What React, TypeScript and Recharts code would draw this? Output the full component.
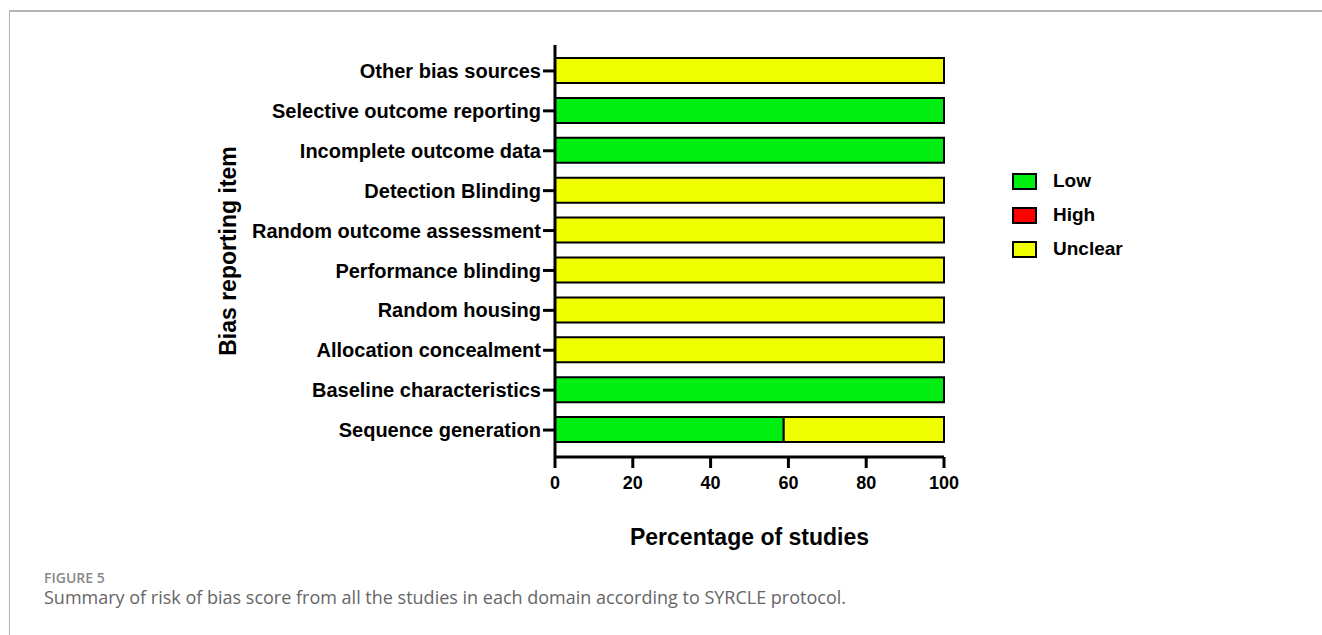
import React from "react";
import { BarChart, Bar, XAxis, YAxis } from "recharts";

// bias items, top to bottom
const items = [
  "Other bias sources",
  "Selective outcome reporting",
  "Incomplete outcome data",
  "Detection Blinding",
  "Random outcome assessment",
  "Performance blinding",
  "Random housing",
  "Allocation concealment",
  "Baseline characteristics",
  "Sequence generation",
];
const lowValues = [0, 100, 100, 0, 0, 0, 0, 0, 100, 58.8];
const highValues = [0, 0, 0, 0, 0, 0, 0, 0, 0, 0];
const unclearValues = [100, 0, 0, 100, 100, 100, 100, 100, 0, 41.2];
const xTicks = [0, 20, 40, 60, 80, 100];

const series = [
  { key: "Low", color: "#00ee10" },
  { key: "High", color: "#ff0000" },
  { key: "Unclear", color: "#f0ff00" },
];

const data = items.map((name, i) => ({
  name,
  Low: lowValues[i],
  High: highValues[i],
  Unclear: unclearValues[i],
}));

const FONT = "'Liberation Sans', Arial, sans-serif";

const LegendBox = () => (
  <div style={{ fontFamily: FONT }}>
    {series.map((s) => (
      <div key={s.key} style={{ display: "flex", alignItems: "center", height: 34 }}>
        <div style={{ width: 21, height: 13, background: s.color, border: "2px solid #000", marginRight: 16 }} />
        <span style={{ fontSize: 19, fontWeight: "bold", color: "#000" }}>{s.key}</span>
      </div>
    ))}
  </div>
);

const App = () => {
  return (
    <div style={{ position: "absolute", left: 0, top: 0, width: 1322, height: 635, background: "#fff", overflow: "hidden" }}>
      <div style={{ position: "absolute", left: 9, top: 10, right: 0, height: 2, background: "#b4b4b4" }} />
      <div style={{ position: "absolute", left: 9, top: 10, bottom: 0, width: 1, background: "#b4b4b4" }} />

      <div style={{ position: "absolute", left: 0, top: 0 }}>
        <BarChart
          width={1322}
          height={635}
          data={data}
          layout="vertical"
          margin={{ top: 45, right: 378, bottom: 58, left: 215 }}
        >
          <XAxis
            type="number"
            domain={[0, 100]}
            ticks={xTicks}
            axisLine={{ stroke: "#000", strokeWidth: 3 }}
            tickLine={{ stroke: "#000", strokeWidth: 3 }}
            tickSize={11}
            tickMargin={8}
            tick={{ fill: "#000", fontSize: 18, fontWeight: "bold", fontFamily: FONT }}
            height={120}
            label={{
              content: (p: any) => {
                const vb = p.viewBox;
                return (
                  <text x={vb.x + vb.width / 2} y={vb.y + 80} textAnchor="middle" dominantBaseline="central"
                    fill="#000" fontSize={23} fontWeight="bold" fontFamily={FONT}>
                    Percentage of studies
                  </text>
                );
              },
            }}
          />
          <YAxis
            type="category"
            dataKey="name"
            width={340}
            padding={{ top: 6, bottom: 7 }}
            axisLine={{ stroke: "#000", strokeWidth: 3 }}
            tickLine={{ stroke: "#000", strokeWidth: 3 }}
            tickSize={12}
            tickMargin={2}
            interval={0}
            tick={{ fill: "#000", fontSize: 20, fontWeight: "bold", fontFamily: FONT }}
            label={{
              content: (p: any) => {
                const vb = p.viewBox;
                const cx = vb.x + 13;
                const cy = vb.y + vb.height / 2;
                return (
                  <text x={cx} y={cy} textAnchor="middle" dominantBaseline="central"
                    transform={`rotate(-90, ${cx}, ${cy})`}
                    fill="#000" fontSize={23} fontWeight="bold" fontFamily={FONT}>
                    Bias reporting item
                  </text>
                );
              },
            }}
          />
          {series.map((s) => (
            <Bar
              key={s.key}
              dataKey={s.key}
              stackId="a"
              fill={s.color}
              stroke="#000"
              strokeWidth={2}
              barSize={25}
              isAnimationActive={false}
            />
          ))}
        </BarChart>
      </div>

      <div style={{ position: "absolute", left: 1012, top: 164 }}>
        <LegendBox />
      </div>

      <div style={{ position: "absolute", left: 44, top: 571, fontFamily: "'Open Sans', sans-serif", fontSize: 14, fontWeight: 600, color: "#888", lineHeight: "14px" }}>
        FIGURE 5
      </div>
      <div style={{ position: "absolute", left: 44, top: 587, fontFamily: "'Open Sans', sans-serif", fontSize: 18, fontWeight: 400, color: "#666", lineHeight: "20px", whiteSpace: "nowrap" }}>
        Summary of risk of bias score from all the studies in each domain according to SYRCLE protocol.
      </div>
    </div>
  );
};

export default App;
